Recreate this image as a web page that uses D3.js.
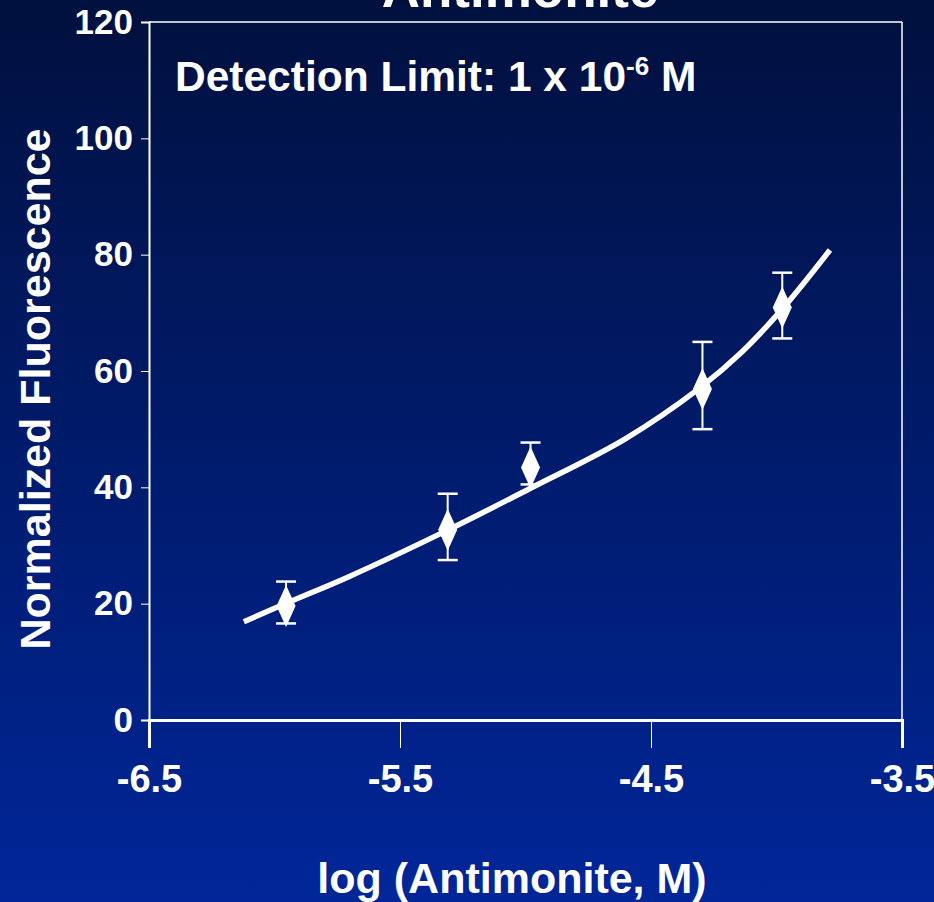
<!DOCTYPE html>
<html><head><meta charset="utf-8">
<script src="https://cdn.jsdelivr.net/npm/d3@7"></script>
<style>html,body{margin:0;padding:0;overflow:hidden;background:#001a70}</style>
</head><body>
<script>
const xTicks = [-6.5, -5.5, -4.5, -3.5];
const yTicks = [0, 20, 40, 60, 80, 100, 120];
const logConc = [-5.954, -5.31, -4.98, -4.295, -3.977];
const fluorescence = [19.6, 32.7, 43.4, 56.9, 70.9];
const errUpper = [23.8, 38.9, 47.7, 65.0, 76.9];
const errLower = [16.6, 27.5, 40.5, 50.0, 65.6];
const fitX = [-6.122, -5.941, -5.706, -5.312, -4.982, -4.604, -4.305, -4.137, -3.974, -3.787];
const fitY = [16.9, 20.3, 24.6, 32.6, 39.8, 48.3, 57.1, 63.3, 70.8, 80.8];
const titleText = "Antimonite";
const noteText = "Detection Limit: 1 x 10";
const noteSup = "-6";
const noteEnd = " M";
const xTitle = "log (Antimonite, M)";
const yTitle = "Normalized Fluorescence";

const W = 934, H = 902;
const svg = d3.select("body").append("svg").attr("width", W).attr("height", H);
const defs = svg.append("defs");
const grad = defs.append("linearGradient").attr("id", "bg").attr("x1", 0).attr("y1", 0).attr("x2", 0).attr("y2", 1);
grad.append("stop").attr("offset", 0).attr("stop-color", "#00103e");
grad.append("stop").attr("offset", 1).attr("stop-color", "#002699");
svg.append("rect").attr("width", W).attr("height", H).attr("fill", "url(#bg)");

const x = d3.scaleLinear().domain([-6.5, -3.5]).range([149, 902]);
const y = d3.scaleLinear().domain([0, 120]).range([720, 22]);
const font = "'Liberation Sans', Arial, sans-serif";

// frame
svg.append("line").attr("x1", x(-6.5)).attr("x2", x(-3.5)).attr("y1", y(120)).attr("y2", y(120)).attr("stroke", "#fff").attr("stroke-width", 1.5);
svg.append("line").attr("x1", x(-3.5)).attr("x2", x(-3.5)).attr("y1", y(120)).attr("y2", y(0)).attr("stroke", "#fff").attr("stroke-width", 1.5);

// axes
const xAxis = d3.axisBottom(x).tickValues(xTicks).tickSize(28).tickPadding(17).tickFormat(d => d.toFixed(1));
const gx = svg.append("g").attr("transform", `translate(0,${y(0)})`).call(xAxis);
gx.select(".domain").attr("stroke", "#fff").attr("stroke-width", 3);
gx.selectAll(".tick line").attr("stroke", "#fff").attr("stroke-width", 1);
gx.selectAll(".tick text").attr("fill", "#fff").attr("font-family", font).attr("font-weight", "bold").attr("font-size", 38);

const yAxis = d3.axisLeft(y).tickValues(yTicks).tickSize(8).tickPadding(8).tickFormat(d3.format("d"));
const gy = svg.append("g").attr("transform", `translate(${x(-6.5)},0)`).call(yAxis);
gy.select(".domain").attr("stroke", "#fff").attr("stroke-width", 2);
gy.selectAll(".tick line").attr("stroke", "#fff").attr("stroke-width", 1);
gy.selectAll(".tick text").attr("fill", "#fff").attr("font-family", font).attr("font-weight", "bold").attr("font-size", 35);

// fit curve
const fit = fitX.map((v, i) => [v, fitY[i]]);
svg.append("path").datum(fit)
  .attr("d", d3.line().x(d => x(d[0])).y(d => y(d[1])).curve(d3.curveCatmullRom.alpha(0.5)))
  .attr("fill", "none").attr("stroke", "#fff").attr("stroke-width", 5.5);

// error bars
const pts = logConc.map((v, i) => ({x: v, y: fluorescence[i], hi: errUpper[i], lo: errLower[i]}));
const eb = svg.append("g").selectAll("g").data(pts).join("g");
eb.append("line").attr("x1", d => x(d.x)).attr("x2", d => x(d.x)).attr("y1", d => y(d.hi)).attr("y2", d => y(d.lo)).attr("stroke", "#fff").attr("stroke-width", 2);
eb.append("line").attr("x1", d => x(d.x) - 10).attr("x2", d => x(d.x) + 10).attr("y1", d => y(d.hi)).attr("y2", d => y(d.hi)).attr("stroke", "#fff").attr("stroke-width", 2.5);
eb.append("line").attr("x1", d => x(d.x) - 10).attr("x2", d => x(d.x) + 10).attr("y1", d => y(d.lo)).attr("y2", d => y(d.lo)).attr("stroke", "#fff").attr("stroke-width", 2.5);
// diamonds
eb.append("path").attr("d", d => {
  const cx = x(d.x), cy = y(d.y), hw = 9.5, hh = 21;
  return `M${cx},${cy - hh}L${cx + hw},${cy}L${cx},${cy + hh}L${cx - hw},${cy}Z`;
}).attr("fill", "#fff");

// texts
svg.append("text").attr("x", 520).attr("y", 7).attr("text-anchor", "middle").attr("fill", "#fff")
  .attr("font-family", font).attr("font-weight", "bold").attr("font-size", 53).text(titleText);
const note = svg.append("text").attr("x", 175).attr("y", 91).attr("fill", "#fff")
  .attr("font-family", font).attr("font-weight", "bold").attr("font-size", 42.5);
note.append("tspan").text(noteText);
note.append("tspan").attr("font-size", 26).attr("dy", -16).text(noteSup);
note.append("tspan").attr("dy", 16).text(noteEnd);

svg.append("text").attr("x", 512).attr("y", 893).attr("text-anchor", "middle").attr("fill", "#fff")
  .attr("font-family", font).attr("font-weight", "bold").attr("font-size", 43).text(xTitle);
svg.append("text").attr("transform", "translate(50,389) rotate(-90)").attr("text-anchor", "middle").attr("fill", "#fff")
  .attr("font-family", font).attr("font-weight", "bold").attr("font-size", 43).text(yTitle);
</script>
</body></html>
